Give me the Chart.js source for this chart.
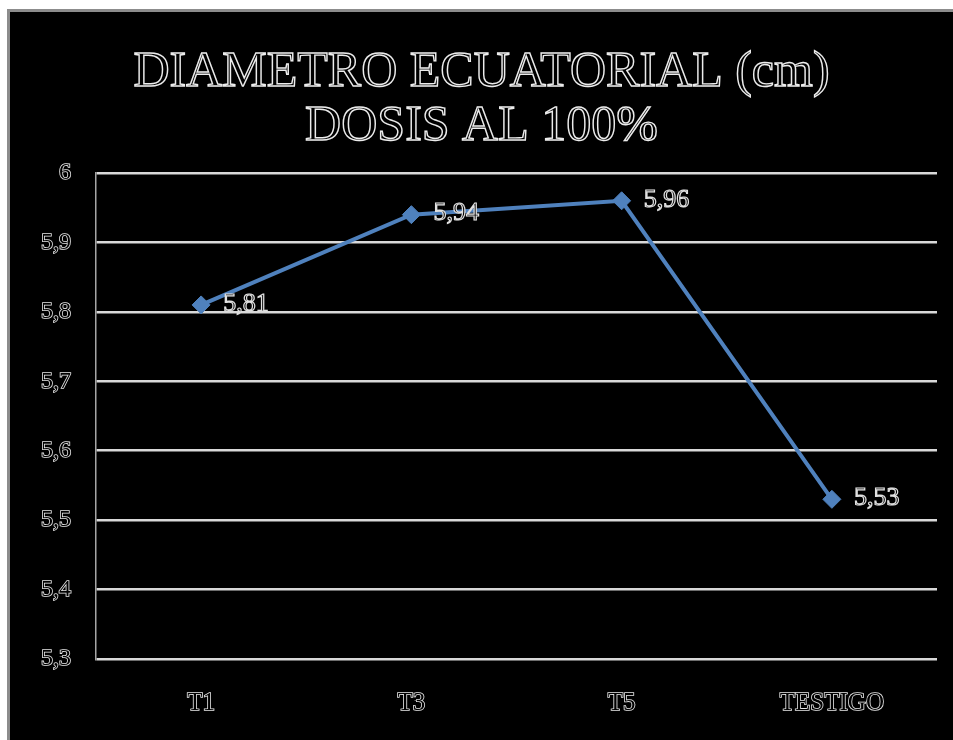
<!DOCTYPE html>
<html lang="es">
  <head>
    <meta charset="UTF-8" />
    <title>Diametro ecuatorial</title>
    <script src="https://cdn.jsdelivr.net/npm/chart.js"></script>
    <style>
      body {
        margin: 0;
        background: #fff;
      }
      #marco {
        position: absolute;
        left: 7px;
        top: 9px;
        width: 943px;
        height: 728px;
        border-left: 3px solid #8c8c8c;
        border-top: 3px solid #8c8c8c;
        background: #000;
      }
    </style>
  </head>
  <body>
    <div id="marco"><canvas id="diametro"></canvas></div>

    <script>
      // datos del grafico
      const tratamientos = ["T1", "T3", "T5", "TESTIGO"];
      const diametroCm = [5.81, 5.94, 5.96, 5.53];
      const titulo = ["DIAMETRO ECUATORIAL (cm)", "DOSIS AL 100%"];
      const ejeMin = 5.3;
      const ejeMax = 6;
      const ejePaso = 0.1;

      const serif = "Liberation Serif, DejaVu Serif";

      function coma(v) {
        return String(Number(v.toFixed(2))).replace(".", ",");
      }

      // titulo con letras contorneadas
      const tituloContorno = {
        id: "tituloContorno",
        afterDraw(chart) {
          const ctx = chart.ctx;
          ctx.save();
          ctx.font = '50px "Liberation Serif", "DejaVu Serif"';
          ctx.textAlign = "center";
          ctx.textBaseline = "middle";
          ctx.lineWidth = 1.4;
          ctx.strokeStyle = "#ececec";
          ctx.strokeText(titulo[0], chart.width / 2, 61);
          ctx.strokeText(titulo[1], chart.width / 2, 115);
          ctx.restore();
        },
      };

      // etiquetas de valor a la derecha de cada punto
      const etiquetas = {
        id: "etiquetas",
        afterDatasetsDraw(chart) {
          const ctx = chart.ctx;
          const meta = chart.getDatasetMeta(0);
          ctx.save();
          ctx.font = '26px "Liberation Serif", "DejaVu Serif"';
          ctx.textAlign = "left";
          ctx.textBaseline = "middle";
          ctx.lineWidth = 1.2;
          ctx.strokeStyle = "#e0e0e0";
          ctx.fillStyle = "#000";
          meta.data.forEach((p, i) => {
            const txt = coma(diametroCm[i]);
            ctx.fillText(txt, p.x + 22, p.y - 1);
            ctx.strokeText(txt, p.x + 22, p.y - 1);
          });
          ctx.restore();
        },
      };

      new Chart(document.getElementById("diametro"), {
        type: "line",
        data: {
          labels: tratamientos,
          datasets: [
            {
              label: "Diametro ecuatorial",
              data: diametroCm,
              borderColor: "#4f81bd",
              backgroundColor: "#4f81bd",
              borderWidth: 4,
              pointStyle: "rectRot",
              pointRadius: 9,
              pointBorderWidth: 1,
              tension: 0,
            },
          ],
        },
        options: {
          responsive: true,
          maintainAspectRatio: false,
          animation: false,
          layout: {
            padding: { top: 161, right: 16, left: 0, bottom: 0 },
          },
          plugins: {
            legend: { display: false },
            title: { display: false },
            tooltip: { enabled: false },
          },
          scales: {
            x: {
              offset: true,
              afterFit(s) {
                s.height = 81;
              },
              grid: { display: false },
              border: { display: false },
              ticks: {
                padding: 21,
                color: "#000",
                textStrokeColor: "#e6e6e6",
                textStrokeWidth: 1.6,
                font: { family: serif, size: 25 },
              },
            },
            y: {
              min: ejeMin,
              max: ejeMax,
              afterFit(s) {
                s.width = 86;
              },
              grid: {
                color: "#d9d9d9",
                lineWidth: 2.5,
                drawTicks: false,
              },
              border: { display: true, color: "#a6a6a6", width: 1.5 },
              ticks: {
                stepSize: ejePaso,
                padding: 25,
                color: "#000",
                textStrokeColor: "#e6e6e6",
                textStrokeWidth: 1.6,
                font: { family: serif, size: 24 },
                callback: (v) => coma(v),
              },
            },
          },
        },
        plugins: [tituloContorno, etiquetas],
      });
    </script>
  </body>
</html>
